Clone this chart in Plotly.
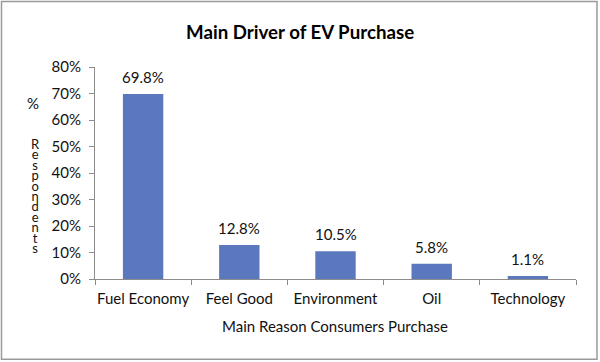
import plotly.graph_objects as go

categories = ["Fuel Economy", "Feel Good", "Environment", "Oil", "Technology"]
values = [69.8, 12.8, 10.5, 5.8, 1.1]
labels = ["69.8%", "12.8%", "10.5%", "5.8%", "1.1%"]

W, H = 600, 362
L, R, T, B = 95, 24, 67, 83
pw, ph = W - L - R, H - T - B

def px(x):
    return (x - L) / pw

def py(y):
    return (H - B - y) / ph

FONT = "Lato, 'Open Sans', sans-serif"
TXT = "#111"

fig = go.Figure(go.Bar(
    x=categories, y=values,
    marker=dict(color="#5B78BE", line=dict(width=0)),
    hoverinfo="x+y",
))

stacked = "<br>".join('<span style="font-size:13px">%s</span>' % ch for ch in "Respondents")

ann = [dict(text="<b>Main Driver of EV Purchase</b>", x=px(300), y=py(32), xref="paper", yref="paper",
            showarrow=False, font=dict(size=18.7, color="#000", family=FONT), xanchor="center", yanchor="middle"),
       dict(text="%", x=px(33), y=py(103), xref="paper", yref="paper", showarrow=False,
            font=dict(size=15, color=TXT, family=FONT), xanchor="center", yanchor="middle"),
       dict(text=stacked, x=px(35), y=py(134), xref="paper", yref="paper", showarrow=False,
            font=dict(size=8, color=TXT, family=FONT), xanchor="center", yanchor="top"),
       dict(text="Main Reason Consumers Purchase", x=px(335), y=py(326), xref="paper", yref="paper",
            showarrow=False, font=dict(size=15, color=TXT, family=FONT), xanchor="center", yanchor="middle")]
for c, v, t in zip(categories, values, labels):
    ann.append(dict(text=t, x=c, y=v, xref="x", yref="y", showarrow=False, yshift=17,
                    font=dict(size=15, color=TXT, family=FONT), xanchor="center", yanchor="middle"))

fig.update_layout(
    width=W, height=H, margin=dict(l=L, r=R, t=T, b=B, autoexpand=False),
    paper_bgcolor="white", plot_bgcolor="white",
    font=dict(family=FONT, size=15, color=TXT),
    bargap=0.58, showlegend=False,
    annotations=ann,
    shapes=[dict(type="rect", xref="paper", yref="paper",
                 x0=px(1.5), x1=px(597), y0=py(1.5), y1=py(359.3),
                 line=dict(color="#9a9a9a", width=1.5))],
    xaxis=dict(showline=True, linecolor="#8c8c8c", linewidth=1, ticks="outside", tickson="boundaries",
               ticklen=5, tickcolor="#8c8c8c", tickfont=dict(size=15, color=TXT), automargin=False,
               ticklabelstandoff=6, tickangle=0),
    yaxis=dict(range=[0, 80], dtick=10, ticksuffix="%", showline=True, linecolor="#8c8c8c", linewidth=1,
               ticks="outside", ticklen=5, tickcolor="#8c8c8c", showgrid=False, zeroline=False,
               tickfont=dict(size=15, color=TXT), automargin=False, ticklabelstandoff=5),
)

fig.write_html("out.html", config={"displayModeBar": False},
               post_script="document.body.style.margin='0';document.body.style.overflow='hidden';")
